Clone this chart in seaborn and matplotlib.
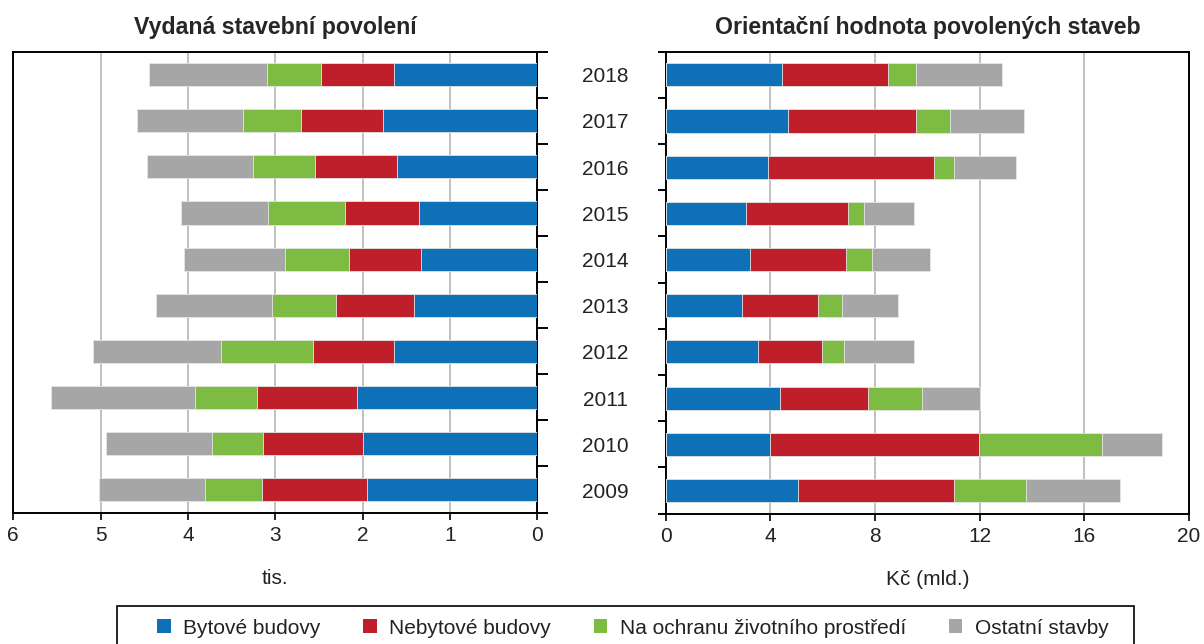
import numpy as np
import pandas as pd
import matplotlib
matplotlib.use("Agg")
import matplotlib.pyplot as plt
from matplotlib.patches import Patch, Rectangle
import seaborn as sns

years = ["2018", "2017", "2016", "2015", "2014", "2013", "2012", "2011", "2010", "2009"]
series = ["Bytové budovy", "Nebytové budovy", "Na ochranu životního prostředí", "Ostatní stavby"]
colors = ["#0E71B8", "#BE1F2A", "#7DBB42", "#A6A6A6"]

# Vydaná stavební povolení (tis.)
count_byt = [1.64, 1.77, 1.61, 1.36, 1.335, 1.41, 1.64, 2.07, 2.00, 1.955]
count_nebyt = [0.84, 0.935, 0.94, 0.845, 0.82, 0.89, 0.93, 1.14, 1.14, 1.20]
count_env = [0.62, 0.665, 0.71, 0.875, 0.735, 0.735, 1.05, 0.71, 0.59, 0.65]
count_other = [1.35, 1.21, 1.21, 1.00, 1.16, 1.33, 1.47, 1.645, 1.21, 1.21]

# Orientační hodnota povolených staveb (Kč mld.)
value_byt = [4.46, 4.68, 3.92, 3.08, 3.23, 2.92, 3.53, 4.38, 3.99, 5.05]
value_nebyt = [4.03, 4.88, 6.33, 3.89, 3.65, 2.89, 2.43, 3.34, 8.00, 5.95]
value_env = [1.07, 1.30, 0.77, 0.61, 1.00, 0.92, 0.85, 2.08, 4.68, 2.78]
value_other = [3.30, 2.84, 2.37, 1.92, 2.23, 2.15, 2.69, 2.22, 2.31, 3.58]

left_ticks = [6, 5, 4, 3, 2, 1, 0]
right_ticks = [0, 4, 8, 12, 16, 20]

sns.set_theme(style="white")
plt.rcParams["font.family"] = ["Liberation Sans", "DejaVu Sans"]

W, H = 1204, 644
fig = plt.figure(figsize=(W / 100, H / 100), dpi=100)
axL = fig.add_axes([13.3 / W, 1 - 512.5 / H, 524 / W, 460.8 / H])
axR = fig.add_axes([665.7 / W, 1 - 513.5 / H, 523.3 / W, 461.8 / H])


def stacked(ax, parts):
    cum = np.cumsum(np.array(parts), axis=0)
    for i in range(len(parts) - 1, -1, -1):
        df = pd.DataFrame({"year": years, "val": cum[i]})
        sns.barplot(data=df, x="val", y="year", order=years, orient="h",
                    color=colors[i], width=0.5, ax=ax, saturation=1,
                    edgecolor="#e6e6e6", linewidth=0.6, zorder=3)


stacked(axL, [count_byt, count_nebyt, count_env, count_other])
stacked(axR, [value_byt, value_nebyt, value_env, value_other])

fs = 15
for ax in (axL, axR):
    for s in ax.spines.values():
        s.set_visible(True)
        s.set_color("black")
        s.set_linewidth(1.4)
    ax.grid(axis="x", color="#C0C0C0", linewidth=1.4, zorder=0)
    ax.grid(axis="y", visible=False)
    ax.set_axisbelow(True)
    ax.set_ylim(9.5, -0.5)
    ax.set_ylabel("")
    ax.tick_params(axis="x", bottom=True, direction="out", length=5, width=1.2,
                   color="black", labelsize=fs, pad=5, labelcolor="#222222")

# Left panel
axL.set_xlim(6, 0)
axL.set_xticks(left_ticks)
axL.set_xticklabels([str(t) for t in left_ticks])
axL.set_yticks(np.arange(-0.5, 10, 1))
axL.set_yticklabels([])
axL.tick_params(axis="y", left=False, right=True, direction="out", length=8,
                width=1.4, color="black")
axL.set_xlabel("tis.", fontsize=fs, labelpad=17, color="#222222")
axL.set_title("Vydaná stavební povolení", fontsize=16.7, fontweight="bold", pad=13)

# Right panel
axR.set_xlim(0, 20)
axR.set_xticks(right_ticks)
axR.set_xticklabels([str(t) for t in right_ticks])
axR.set_yticks(range(len(years)))
axR.set_yticklabels(years)
axR.tick_params(axis="y", which="major", left=True, length=0, pad=27,
                labelsize=fs, labelcolor="#222222")
axR.set_yticks(np.arange(-0.5, 10, 1), minor=True)
axR.tick_params(axis="y", which="minor", left=True, direction="out", length=6,
                width=1.4, color="black")
axR.set_xlabel("Kč (mld.)", fontsize=fs, labelpad=17, color="#222222")
axR.set_title("Orientační hodnota povolených staveb", fontsize=16.7, fontweight="bold", pad=13)

# Legend (entries) + outer box as in the reference
handles = [Patch(facecolor=c, edgecolor="none", label=s) for c, s in zip(colors, series)]
leg = fig.legend(handles=handles, loc="center", ncol=4,
                 bbox_to_anchor=(633 / W, 1 - 628 / H),
                 fontsize=fs, frameon=False,
                 handlelength=0.65, handleheight=0.65, handletextpad=0.6,
                 columnspacing=2.05, borderpad=0, borderaxespad=0)
for t in leg.get_texts():
    t.set_color("#222222")
fig.patches.append(Rectangle((117 / W, 1 - 652 / H), (1134 - 117) / W, (652 - 605.7) / H,
                             transform=fig.transFigure, fill=False,
                             edgecolor="black", linewidth=1.2))

fig.savefig("out.png", dpi=100)
